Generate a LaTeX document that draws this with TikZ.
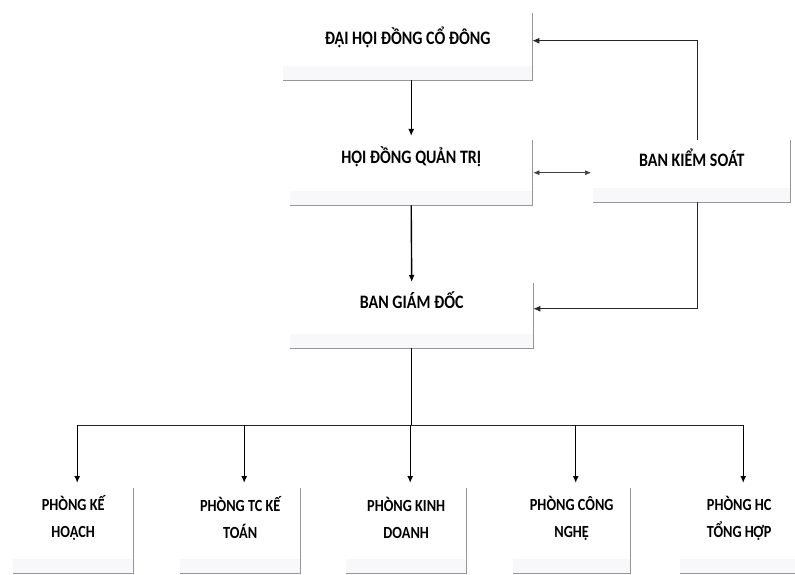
\documentclass[tikz,border=0pt]{standalone}
\usepackage{fontspec}
\setmainfont{Carlito}[FakeStretch=0.84]
\usetikzlibrary{arrows.meta, positioning, calc}
\definecolor{edgegray}{RGB}{150,150,150}
\definecolor{bandgray}{RGB}{248,248,250}

\begin{document}
\begin{tikzpicture}[
    x=1pt, y=-1pt,
    every node/.style={font=\bfseries},
    box/.style={inner sep=0pt, anchor=north west},
    title/.style={font=\fontsize{19}{21}\selectfont\bfseries, inner sep=0pt},
    dept/.style={font=\fontsize{17}{27}\selectfont\bfseries, inner sep=0pt, align=center},
    line/.style={black!85, line width=0.9pt},
    arr/.style={black, line width=1.4pt, -{Latex[length=7pt, width=6pt]}},
    sidearr/.style={line, -{Latex[length=7pt, width=6pt]}},
    thinarr/.style={black!75, line width=0.6pt, {Latex[length=6pt, width=5pt]}-{Latex[length=6pt, width=5pt]}},
    rim/.style={edgegray, line width=0.6pt},
]
\useasboundingbox (0,0) rectangle (795,575);

% ============================================================
% Upper levels
% ============================================================
\node[box, minimum width=249pt, minimum height=67pt] (dhcd) at (283,13) {};
\node[title] (dhcd-t) at ([yshift=-24pt]dhcd.north) {ĐẠI HỘI ĐỒNG CỔ ĐÔNG};

\node[box, minimum width=242pt, minimum height=65pt] (hdqt) at (290,140) {};
\node[title] (hdqt-t) at ([yshift=-17pt]hdqt.north) {HỘI ĐỒNG QUẢN TRỊ};

\node[box, minimum width=197pt, minimum height=62pt] (bks) at (593,140) {};
\node[title] (bks-t) at ([yshift=-18pt]bks.north) {BAN KIỂM SOÁT};

\node[box, minimum width=243pt, minimum height=65pt] (bgd) at (290,283) {};
\node[title] (bgd-t) at ([yshift=-17pt]bgd.north) {BAN GIÁM ĐỐC};

% ============================================================
% Departments
% ============================================================
\node[box, minimum width=120pt, minimum height=85pt] (p1) at (13,488) {};
\node[box, minimum width=120pt, minimum height=85pt] (p2) at (180,488) {};
\node[box, minimum width=120pt, minimum height=85pt] (p3) at (346,488) {};
\node[box, minimum width=117pt, minimum height=85pt] (p4) at (513,488) {};
\node[box, minimum width=118pt, minimum height=85pt] (p5) at (680,488) {};

\node[dept] (p1-t) at ([yshift=-30pt]p1.north) {PHÒNG KẾ\\HOẠCH};
\node[dept] (p2-t) at ([yshift=-30pt]p2.north) {PHÒNG TC KẾ\\TOÁN};
\node[dept] (p3-t) at ([yshift=-30pt]p3.north) {PHÒNG KINH\\DOANH};
\node[dept] (p4-t) at ([yshift=-30pt]p4.north) {PHÒNG CÔNG\\NGHỆ};
\node[dept] (p5-t) at ([yshift=-30pt]p5.north) {PHÒNG HC\\TỔNG HỢP};

% faint right / bottom rims of the boxes
\foreach \n in {dhcd,hdqt,bks,bgd,p1,p2,p3,p4,p5} {
    \fill[bandgray] ([yshift=14pt]\n.south west) rectangle (\n.south east);
    \draw[rim] (\n.north east) -- (\n.south east) -- (\n.south west);
}

% ============================================================
% Connectors
% ============================================================
\draw[arr] (hdqt.north |- dhcd.south) -- ([yshift=4pt]hdqt.north);
\draw[arr] (hdqt.south) -- ([yshift=1pt]bgd.north);
\draw[thinarr] ([xshift=1pt]hdqt.east) -- ([xshift=-2pt]bks.west |- hdqt.east);

% control board feedback
\draw[sidearr] ([xshift=6pt]bks.north) |- ([yshift=6pt]dhcd.east);
\draw[sidearr] ([xshift=6pt]bks.south) |- ([yshift=7pt]bgd.east);

% distribution bus
\coordinate (bus) at ([yshift=-77pt]bgd.south);
\draw[line, black, line width=1.4pt] (bgd.south) -- (bus);
\draw[line] ([xshift=4pt]p1.north |- bus) -- ([xshift=4pt]p5.north |- bus);
\foreach \p in {p1,p2,p3,p4,p5} {
    \draw[arr] ([xshift=4pt]\p.north |- bus) -- ([xshift=4pt, yshift=5pt]\p.north);
}

\end{tikzpicture}
\end{document}
